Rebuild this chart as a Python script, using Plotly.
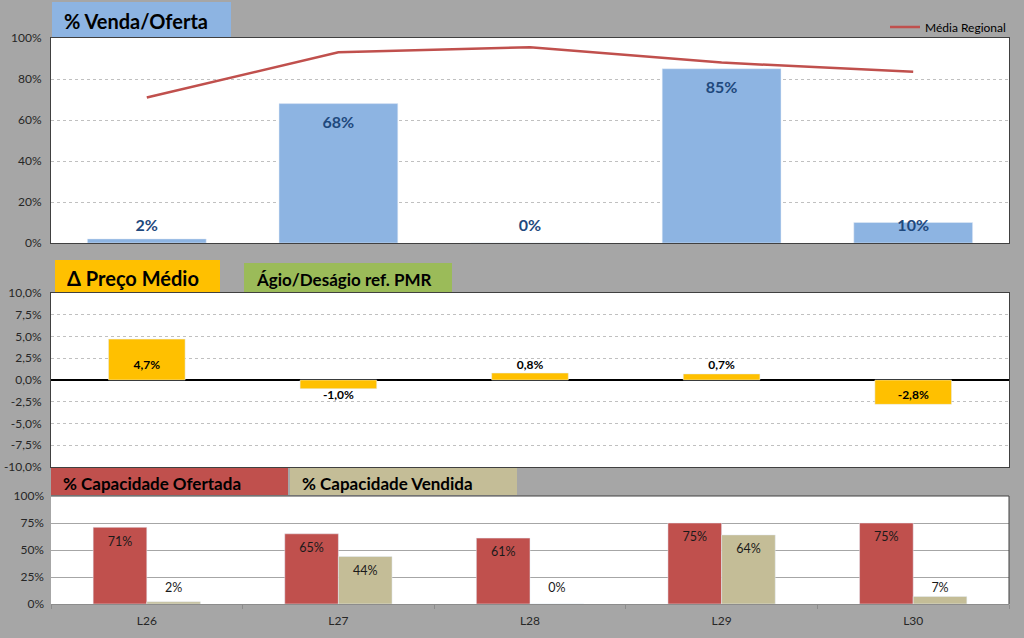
import numpy as np
import plotly.graph_objects as go

# ---------------- data ----------------
categories = ["L26", "L27", "L28", "L29", "L30"]
venda_oferta = [2, 68, 0, 85, 10]                 # % Venda/Oferta (bars)
media_regional = [71, 93, 95.5, 88, 83.5]          # Média Regional (line)
delta_preco = [4.7, -1.0, 0.8, 0.7, -2.8]          # Δ Preço Médio (%)
cap_ofertada = [71, 65, 61, 75, 75]                # % Capacidade Ofertada
cap_vendida = [2, 44, 0, 64, 7]                    # % Capacidade Vendida

top_ticks = [0, 20, 40, 60, 80, 100]
mid_ticks = [-10, -7.5, -5, -2.5, 0, 2.5, 5, 7.5, 10]
bot_ticks = [0, 25, 50, 75, 100]

# ---------------- style ----------------
BG = "#a6a6a6"
FONT = "Lato, 'Open Sans', sans-serif"
BLUE = "#8db4e2"
RED = "#c0504d"
ORANGE = "#ffc000"
GREEN = "#9bbb59"
TAN = "#c4bd97"
H = 638.0

def py(p):
    return 1 - p / H

X_DOM = [51 / 1024, 1009 / 1024]

fig = go.Figure()

# ---- top panel ----
fig.add_trace(go.Bar(x=categories, y=venda_oferta, marker_color=BLUE, width=0.62,
                     xaxis="x", yaxis="y", showlegend=False, hoverinfo="skip"))
fig.add_trace(go.Scatter(x=categories, y=media_regional, mode="lines",
                         line=dict(color=RED, width=2.5), name="Média Regional",
                         xaxis="x", yaxis="y", showlegend=True))
v = np.array(venda_oferta, dtype=float)
fig.add_trace(go.Scatter(x=categories, y=np.maximum(v - 10, 8.0), mode="text",
                         text=[f"{int(a)}%" for a in venda_oferta],
                         textfont=dict(family=FONT, size=16, color="#1f497d", weight="bold"),
                         xaxis="x", yaxis="y", showlegend=False, hoverinfo="skip"))

# ---- middle panel ----
d = np.array(delta_preco)
fig.add_trace(go.Bar(x=categories, y=delta_preco, marker_color=ORANGE, width=0.4,
                     xaxis="x2", yaxis="y2", showlegend=False, hoverinfo="skip"))
fig.add_trace(go.Scatter(x=categories, y=np.where(d >= 0, 1.6, -1.85), mode="text",
                         text=[f"{a:.1f}%".replace(".", ",") for a in delta_preco],
                         textfont=dict(family=FONT, size=12, color="#000000", weight="bold"),
                         xaxis="x2", yaxis="y2", showlegend=False, hoverinfo="skip"))

# ---- bottom panel ----
fig.add_trace(go.Bar(x=categories, y=cap_ofertada, marker_color=RED, width=0.28, offset=-0.28,
                     xaxis="x3", yaxis="y3", showlegend=False, hoverinfo="skip"))
fig.add_trace(go.Bar(x=categories, y=cap_vendida, marker_color=TAN, width=0.28, offset=0,
                     xaxis="x3", yaxis="y3", showlegend=False, hoverinfo="skip"))
co = np.array(cap_ofertada, dtype=float)
cv = np.array(cap_vendida, dtype=float)
xi = np.arange(len(categories))
fig.add_trace(go.Scatter(x=xi - 0.14, y=np.maximum(co - 14, 14), mode="text",
                         text=[f"{int(a)}%" for a in cap_ofertada],
                         textfont=dict(family=FONT, size=12.5, color="#1a1a1a"),
                         xaxis="x4", yaxis="y3", showlegend=False, hoverinfo="skip"))
fig.add_trace(go.Scatter(x=xi + 0.14, y=np.maximum(cv - 14, 14), mode="text",
                         text=[f"{int(a)}%" for a in cap_vendida],
                         textfont=dict(family=FONT, size=12.5, color="#1a1a1a"),
                         xaxis="x4", yaxis="y3", showlegend=False, hoverinfo="skip"))

tickfont = dict(family=FONT, size=12, color="#262626")
common_x = dict(domain=X_DOM, showgrid=False, zeroline=False, fixedrange=True, automargin=False)

fig.update_layout(
    width=1024, height=638,
    margin=dict(l=0, r=0, t=0, b=0, pad=0, autoexpand=False),
    paper_bgcolor=BG, plot_bgcolor="white",
    font=dict(family=FONT),
    barmode="overlay",
    xaxis=dict(**common_x, anchor="y", showticklabels=False, showline=True, mirror=True,
               linecolor="#404040", linewidth=1, range=[-0.5, 4.5]),
    yaxis=dict(domain=[py(243), py(38)], range=[0, 100], tickvals=top_ticks,
               ticktext=[f"{t}%" for t in top_ticks], automargin=False,
               tickfont=tickfont, showgrid=True, gridcolor="#c0c0c0", ticklabelstandoff=6,
               griddash="dot", gridwidth=1, zeroline=False, showline=True, mirror=True,
               linecolor="#404040", linewidth=1, ticks="", anchor="x"),
    xaxis2=dict(**common_x, anchor="y2", showticklabels=False, showline=True, mirror=True,
                linecolor="#404040", linewidth=1, range=[-0.5, 4.5]),
    yaxis2=dict(domain=[py(467), py(293)], range=[-10, 10], tickvals=mid_ticks,
                ticktext=[f"{t:.1f}%".replace(".", ",") for t in mid_ticks], automargin=False,
                tickfont=tickfont, showgrid=True, ticklabelstandoff=6,
                gridcolor="#c0c0c0", griddash="dot", zeroline=True, zerolinecolor="#000000",
                zerolinewidth=2, showline=True, mirror=True, linecolor="#404040",
                linewidth=1, anchor="x2"),
    xaxis3=dict(**common_x, anchor="y3", tickfont=tickfont, showline=True,
                linecolor="#8c8c8c", linewidth=1, ticks="outside", tickson="boundaries",
                ticklen=4, tickcolor="#8c8c8c", range=[-0.5, 4.5], ticklabelstandoff=6),
    xaxis4=dict(domain=X_DOM, overlaying="x3", range=[-0.5, 4.5], visible=False,
                fixedrange=True, anchor="y3", automargin=False),
    yaxis3=dict(domain=[py(604), py(496)], range=[0, 100], tickvals=bot_ticks,
                ticktext=[f"{t}%" for t in bot_ticks], automargin=False,
                tickfont=tickfont, showgrid=True, gridcolor="#a6a6a6", ticklabelstandoff=6,
                gridwidth=1, zeroline=False, showline=False, anchor="x3"),
    legend=dict(x=1011 / 1024, xanchor="right", y=py(27), yanchor="middle",
                bgcolor="rgba(0,0,0,0)", font=dict(family=FONT, size=12, color="#000000"),
                itemwidth=30),
)

# bottom panel top/right border
fig.add_shape(type="line", xref="paper", yref="paper", x0=X_DOM[0], x1=X_DOM[1],
              y0=py(496), y1=py(496), line=dict(color="#404040", width=1))
fig.add_shape(type="line", xref="paper", yref="paper", x0=X_DOM[1], x1=X_DOM[1],
              y0=py(604), y1=py(496), line=dict(color="#404040", width=1))

# title boxes
boxes = [
    (52, 231, 2, 37, BLUE, "% Venda/Oferta", 20),
    (55, 220, 260, 293, ORANGE, "Δ Preço Médio", 20),
    (244, 452, 263, 292, GREEN, "Ágio/Deságio ref. PMR", 17),
    (51, 288, 468, 495, RED, "% Capacidade Ofertada", 17),
    (290, 517, 468, 495, TAN, "% Capacidade Vendida", 17),
]
for x0, x1, y0, y1, col, txt, fs in boxes:
    fig.add_shape(type="rect", xref="paper", yref="paper", x0=x0 / 1024, x1=x1 / 1024,
                  y0=py(y1), y1=py(y0), fillcolor=col, line=dict(width=0), layer="below")
    fig.add_annotation(xref="paper", yref="paper", x=(x0 + 10) / 1024, y=py((y0 + y1) / 2 + 2),
                       xanchor="left", yanchor="middle", showarrow=False, text=f"<b>{txt}</b>",
                       font=dict(family=FONT, size=fs, color="#000000"))

fig.write_html("out.html")
